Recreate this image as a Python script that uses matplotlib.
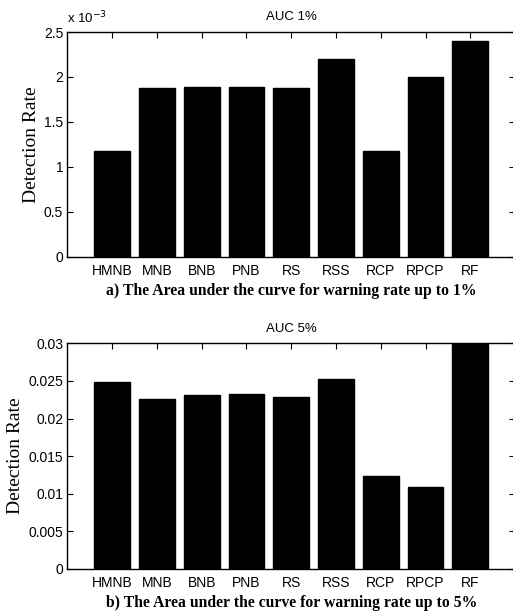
import matplotlib.pyplot as plt
from matplotlib.ticker import FuncFormatter

methods = ["HMNB", "MNB", "BNB", "PNB", "RS", "RSS", "RCP", "RPCP", "RF"]
# AUC up to 1% warning rate (units of 1e-3)
auc1 = [1.18, 1.875, 1.886, 1.886, 1.875, 2.204, 1.18, 2.0, 2.404]
# AUC up to 5% warning rate
auc5 = [0.0248, 0.02257, 0.02315, 0.02328, 0.02288, 0.02522, 0.0124, 0.0109, 0.0305]

fig = plt.figure(figsize=(5.13, 6.12), dpi=100)
sans = ["Liberation Sans", "DejaVu Sans"]
serif = ["Liberation Serif", "DejaVu Serif"]

def panel(rect, vals, ymax, yticks, title, caption):
    ax = fig.add_axes(rect)
    x = range(1, len(vals) + 1)
    ax.bar(x, vals, width=0.8, color="black", edgecolor="black")
    ax.set_xlim(0, 10)
    ax.set_ylim(0, ymax)
    ax.set_xticks(list(x))
    ax.set_xticklabels(methods, family=sans, fontsize=10)
    ax.set_yticks(yticks)
    ax.yaxis.set_major_formatter(FuncFormatter(lambda v, p: "%g" % v))
    for lab in ax.get_yticklabels():
        lab.set_family(sans)
        lab.set_fontsize(10)
    ax.tick_params(direction="in", top=True, right=True, length=4, pad=3)
    ax.tick_params(axis="x", pad=5)
    ax.set_ylabel("Detection Rate", family=serif, fontsize=14, labelpad=3)
    ax.set_title(title, family=sans, fontsize=9.5, pad=8.5)
    ax.text(0.5, -0.152, caption, transform=ax.transAxes, ha="center", va="center",
            family=serif, fontsize=11.3, fontweight="bold")
    for s in ax.spines.values():
        s.set_linewidth(1.0)
    return ax

ax1 = panel([0.1312, 0.5806, 0.873, 0.367], auc1, 2.5, [0, 0.5, 1, 1.5, 2, 2.5],
            "AUC 1%", "a) The Area under the curve for warning rate up to 1%")
ax1.text(0.0, 1.025, "x 10$^{-3}$", transform=ax1.transAxes, ha="left", va="bottom",
         family=sans, fontsize=9.5)

ax2 = panel([0.1312, 0.0708, 0.873, 0.368], auc5, 0.03,
            [0, 0.005, 0.01, 0.015, 0.02, 0.025, 0.03],
            "AUC 5%", "b) The Area under the curve for warning rate up to 5%")

fig.savefig("out.png", dpi=100)
